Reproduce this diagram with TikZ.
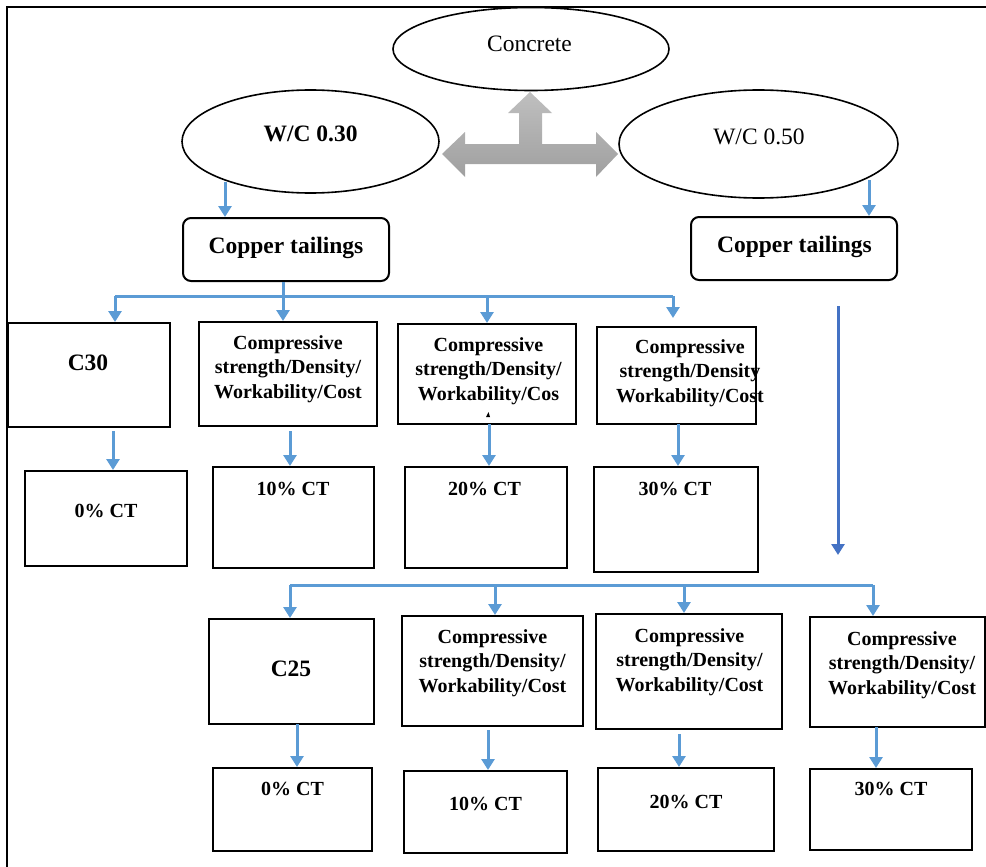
\documentclass[tikz,border=0pt]{standalone}
\usepackage{fontspec}
\setmainfont{Liberation Serif}
\usetikzlibrary{arrows.meta,shapes.geometric}
\definecolor{lblue}{HTML}{5B9BD5}
\definecolor{dblue}{HTML}{4472C4}
\tikzset{
  box/.style={draw, line width=2pt, inner sep=0pt},
  rbox/.style={box, rounded corners=8pt},
  ell/.style={draw, ellipse, line width=1.6pt, inner sep=0pt},
  txt/.style={anchor=base, inner sep=0pt, align=center, font=\fontsize{20}{24.5}\selectfont\bfseries},
  bigb/.style={anchor=base, inner sep=0pt, font=\fontsize{23.5}{28}\selectfont\bfseries},
  bigr/.style={anchor=base, inner sep=0pt, font=\fontsize{23.5}{28}\selectfont},
  bl/.style={draw=lblue, line width=3pt},
  arr/.style={bl, -{Triangle[width=13pt,length=11pt]}},
  arrd/.style={draw=dblue, line width=3pt, -{Triangle[width=13pt,length=11pt]}}
}
\begin{document}
\begin{tikzpicture}[x=1pt,y=-1pt]
\useasboundingbox (0,0) rectangle (986,867);
% frame
\draw[line width=2pt] (7,867) -- (7,7) -- (986,7);

% ellipses
\node[ell, minimum width=276, minimum height=83] (concrete) at (531,49) {};
\node[ell, minimum width=257, minimum height=103] (wc30) at (310.5,141.5) {};
\node[ell, minimum width=279, minimum height=108] (wc50) at (758.5,144) {};
\node[bigr] (tconc) at (529.5,52) {Concrete};
\node[bigb] (twc30) at (310.5,142) {W/C 0.30};
\node[bigr] (twc50) at (759,144) {W/C 0.50};

% grey T arrow
\shade[top color=gray!50, bottom color=gray!75]
  (465,144) -- (519,144) -- (519,113) -- (508,113) -- (530,92) -- (552,113)
  -- (542,113) -- (542,144) -- (596,144) -- (596,132) -- (618,154) -- (596,177)
  -- (596,164) -- (465,164) -- (465,177) -- (442,154) -- (465,132) -- cycle;

% copper tailings
\node[rbox, minimum width=206, minimum height=63] (ctL) at (286,249.5) {};
\node[rbox, minimum width=206, minimum height=63] (ctR) at (794,248.5) {};
\node[bigb] (tctL) at (286,253) {Copper tailings};
\node[bigb] (tctR) at (794.5,252) {Copper tailings};

% row 1 boxes
\node[box, minimum width=162, minimum height=104] (c30) at (89,375) {};
\node[box, minimum width=178, minimum height=104] (cp1) at (288,374) {};
\node[box, minimum width=178, minimum height=100] (cp2) at (487,374) {};
\node[box, minimum width=159, minimum height=97] (cp3) at (676.5,375.5) {};
\node[bigb] (tc30) at (88,370) {C30};
\node[txt] (tcp1) at (288,398) {Compressive\\strength/Density/\\Workability/Cost};
\node[txt] (tcp2) at (488.5,400) {Compressive\\strength/Density/\\Workability/Cos};
\fill (486,417) -- (488.5,412) -- (490,417) -- cycle;
\node[txt] (tcp3) at (690,402) {Compressive\\strength/Density\\Workability/Cost};

\node[box, minimum width=162, minimum height=95] (ct0a) at (106,518.5) {};
\node[box, minimum width=161, minimum height=101] (ct10a) at (293.5,517.5) {};
\node[box, minimum width=162, minimum height=101] (ct20a) at (486,517.5) {};
\node[box, minimum width=164, minimum height=105] (ct30a) at (676,519.5) {};
\node[txt] (tct0a) at (106,517) {0\% CT};
\node[txt] (tct10a) at (293,495) {10\% CT};
\node[txt] (tct20a) at (484.5,495) {20\% CT};
\node[txt] (tct30a) at (675,495) {30\% CT};

% row 2 boxes
\node[box, minimum width=165, minimum height=105] (c25) at (291.5,671.5) {};
\node[box, minimum width=181, minimum height=110] (cp4) at (492.5,671) {};
\node[box, minimum width=186, minimum height=115] (cp5) at (689,671.5) {};
\node[box, minimum width=175, minimum height=110] (cp6) at (897.5,672) {};
\node[bigb] (tc25) at (291,676) {C25};
\node[txt] (tcp4) at (492.5,692) {Compressive\\strength/Density/\\Workability/Cost};
\node[txt] (tcp5) at (689.5,691) {Compressive\\strength/Density/\\Workability/Cost};
\node[txt] (tcp6) at (902,694) {Compressive\\strength/Density/\\Workability/Cost};

\node[box, minimum width=159, minimum height=83] (ct0b) at (292.5,809.5) {};
\node[box, minimum width=163, minimum height=82] (ct10b) at (485.5,812) {};
\node[box, minimum width=176, minimum height=83] (ct20b) at (686,809.5) {};
\node[box, minimum width=162, minimum height=81] (ct30b) at (891,809.5) {};
\node[txt] (tct0b) at (292.5,795) {0\% CT};
\node[txt] (tct10b) at (485.5,810) {10\% CT};
\node[txt] (tct20b) at (686,808) {20\% CT};
\node[txt] (tct30b) at (891,795) {30\% CT};

% connectors: top
\coordinate (a1) at (225,182);
\coordinate (a2) at (869,180);
\draw[arr] (a1) -- (a1 |- ctL.north);
\draw[arr] (a2) -- (a2 |- ctR.north);

% bus 1
\coordinate (b0) at (115,296);
\coordinate (b1) at (283,296);
\coordinate (b2) at (487,296);
\coordinate (b3) at (673,296);
\draw[bl] (b1 |- ctL.south) -- (b1);
\draw[bl] (b0) -- (b3);
\draw[arr] (b0) -- (b0 |- c30.north);
\draw[arr] (b1) -- (b1 |- cp1.north);
\draw[arr] (b2) -- (b2 |- cp2.north);
\draw[arr] (b3) -- ++(0,22);

% row 1 down arrows
\coordinate (d0) at (113,431);
\coordinate (d1) at (290,431);
\coordinate (d2) at (489,424);
\coordinate (d3) at (678,424);
\draw[arr] (d0) -- (d0 |- ct0a.north);
\draw[arr] (d1) -- (d1 |- ct10a.north);
\draw[arr] (d2) -- (d2 |- ct20a.north);
\draw[arr] (d3) -- (d3 |- ct30a.north);

% long arrow
\coordinate (lt) at (838,306);
\coordinate (lb) at (838,555);
\draw[arrd] (lt) -- (lb);

% bus 2
\coordinate (e0) at (290,585);
\coordinate (e1) at (495,585);
\coordinate (e2) at (684,585);
\coordinate (e3) at (873,585);
\draw[bl] (e0) -- (e3);
\draw[arr] (e0) -- (e0 |- c25.north);
\draw[arr] (e1) -- (e1 |- cp4.north);
\draw[arr] (e2) -- (e2 |- cp5.north);
\draw[arr] (e3) -- (e3 |- cp6.north);

% row 2 down arrows
\coordinate (f0) at (297,724);
\coordinate (f1) at (488,730);
\coordinate (f2) at (679,734);
\coordinate (f3) at (876,727);
\draw[arr] (f0) -- (f0 |- ct0b.north);
\draw[arr] (f1) -- (f1 |- ct10b.north);
\draw[arr] (f2) -- (f2 |- ct20b.north);
\draw[arr] (f3) -- (f3 |- ct30b.north);
\end{tikzpicture}
\end{document}
